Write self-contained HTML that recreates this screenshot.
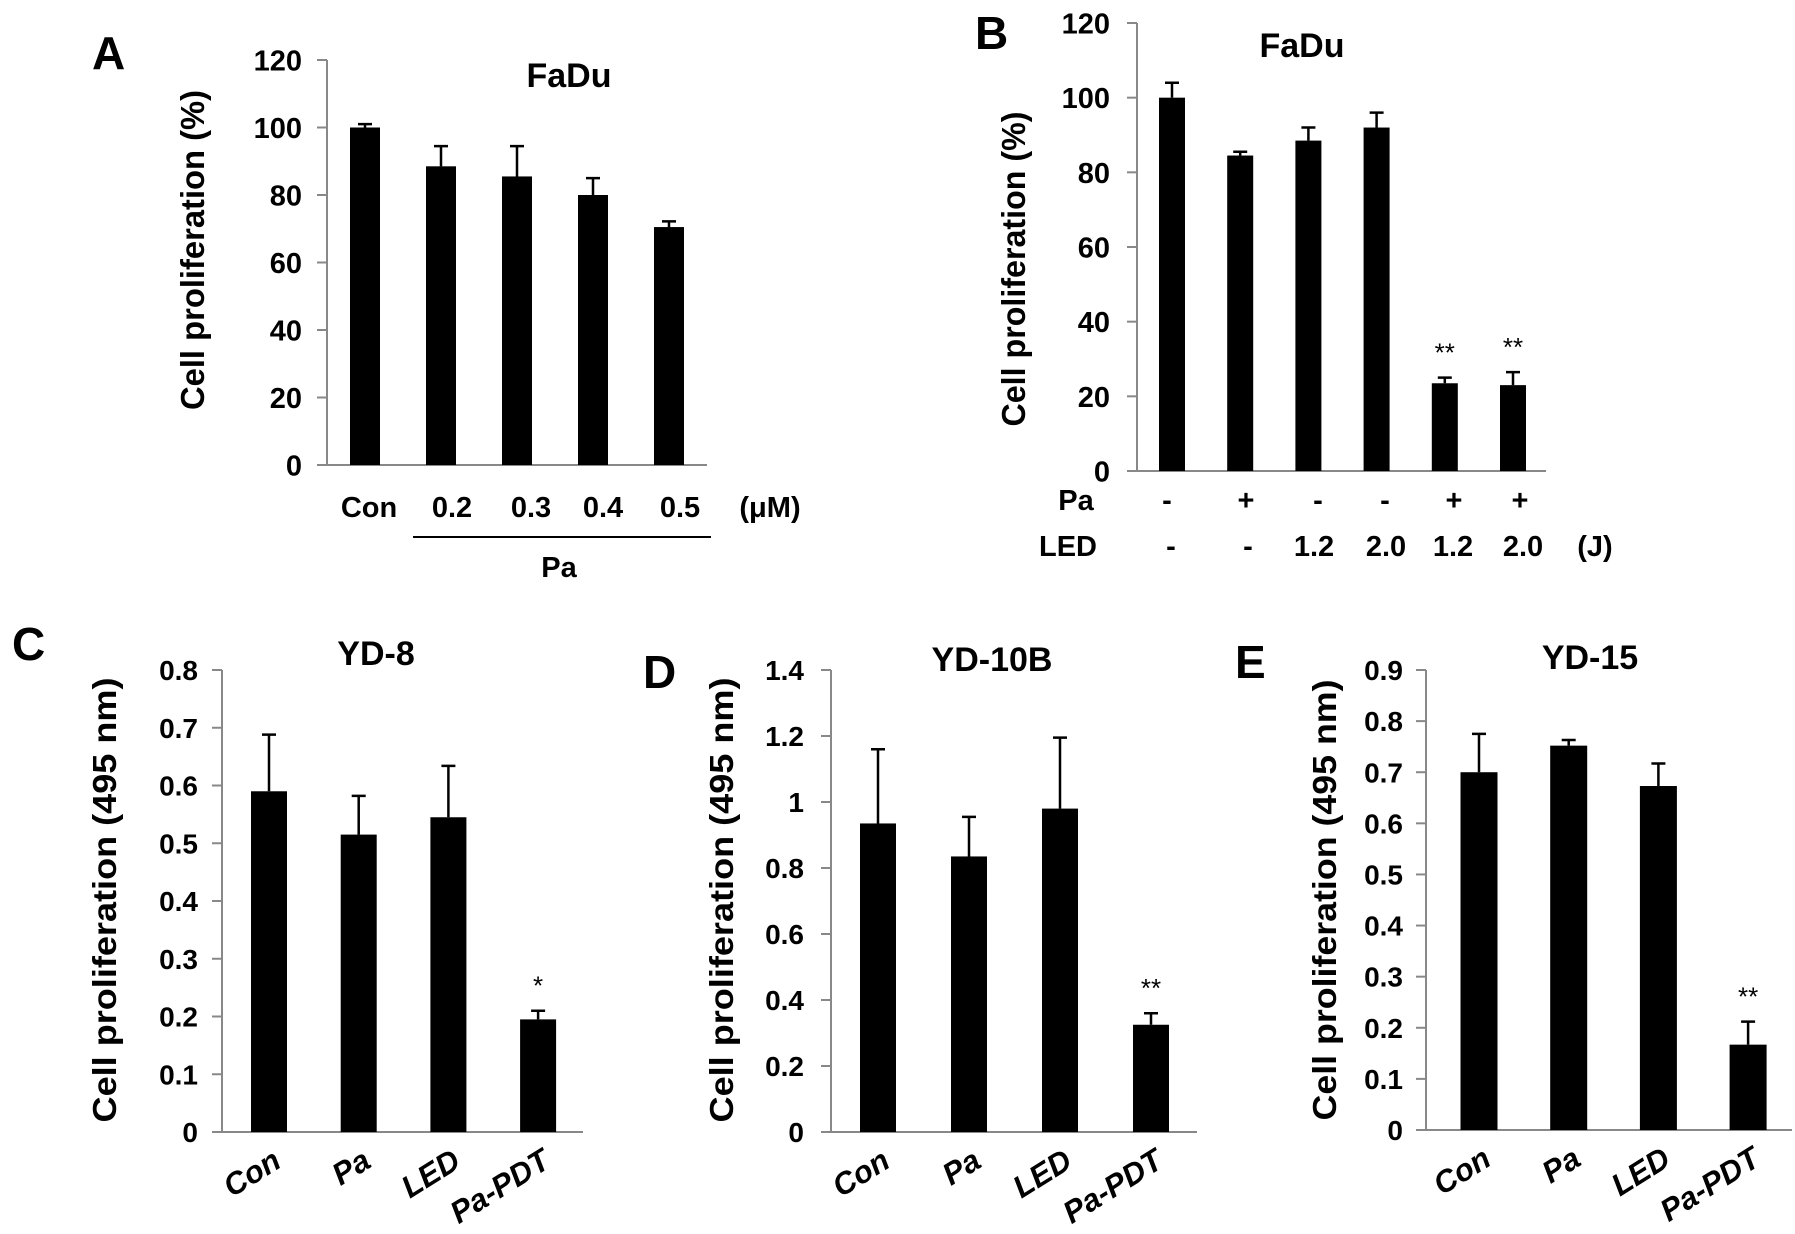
<!DOCTYPE html>
<html><head><meta charset="utf-8">
<style>
html,body{margin:0;padding:0;background:#fff;}
svg{display:block;font-family:"Liberation Sans",Arial,sans-serif;}
</style></head>
<body>
<svg id="fig" width="1795" height="1234" viewBox="0 0 1795 1234" xmlns="http://www.w3.org/2000/svg"></svg>
<script>
// ---- Data ----
const catsA = ["Con","0.2","0.3","0.4","0.5"];
const valsA = [100, 88.5, 85.5, 80, 70.5];
const errA  = [1, 6, 9, 5, 1.7];
const ticksA = [0,20,40,60,80,100,120];

const catsB = ["1","2","3","4","5","6"];
const valsB = [100, 84.5, 88.5, 92, 23.5, 23];
const errB  = [4, 1, 3.5, 4, 1.5, 3.5];
const sigB  = ["", "", "", "", "**", "**"];
const paRowB  = ["-","+","-","-","+","+"];
const ledRowB = ["-","-","1.2","2.0","1.2","2.0"];
const ticksB = [0,20,40,60,80,100,120];

const catsCDE = ["Con","Pa","LED","Pa-PDT"];
const valsC = [0.59, 0.515, 0.545, 0.195];
const errC  = [0.098, 0.067, 0.089, 0.015];
const sigC  = ["", "", "", "*"];
const ticksC = [0,0.1,0.2,0.3,0.4,0.5,0.6,0.7,0.8];
const tickLabC = ["0","0.1","0.2","0.3","0.4","0.5","0.6","0.7","0.8"];

const valsD = [0.935, 0.835, 0.98, 0.325];
const errD  = [0.225, 0.12, 0.215, 0.035];
const sigD  = ["", "", "", "**"];
const ticksD = [0,0.2,0.4,0.6,0.8,1,1.2,1.4];
const tickLabD = ["0","0.2","0.4","0.6","0.8","1","1.2","1.4"];

const valsE = [0.70, 0.752, 0.673, 0.167];
const errE  = [0.075, 0.011, 0.044, 0.045];
const sigE  = ["", "", "", "**"];
const ticksE = [0,0.1,0.2,0.3,0.4,0.5,0.6,0.7,0.8,0.9];
const tickLabE = ["0","0.1","0.2","0.3","0.4","0.5","0.6","0.7","0.8","0.9"];

const NS = "http://www.w3.org/2000/svg";
const svg = document.getElementById("fig");
function mk(tag, attrs, parent){
  const e = document.createElementNS(NS, tag);
  for (const k in attrs) e.setAttribute(k, attrs[k]);
  (parent||svg).appendChild(e);
  return e;
}
function txt(s, attrs, parent){ const t = mk("text", attrs, parent); t.textContent = s; return t; }

function panel(cfg){
  const g = mk("g", {});
  
  
  const y = v => cfg.y0 - (v - cfg.min) / (cfg.max - cfg.min) * (cfg.y0 - cfg.yTop);
  const ax = mk("line", {x1:cfg.ax, y1:cfg.yTop, x2:cfg.ax, y2:cfg.y0, stroke:"#888", "stroke-width":2}, g);
  
  
  const bx = mk("line", {x1:cfg.ax-10, y1:cfg.y0, x2:cfg.xEnd, y2:cfg.y0, stroke:"#888", "stroke-width":2}, g);
  
  
  cfg.ticks.forEach((t,i) => {
    mk("line", {x1:cfg.ax-10, y1:y(t), x2:cfg.ax, y2:y(t), stroke:"#888", "stroke-width":2}, g);
    const lab = txt(cfg.tickLabels ? cfg.tickLabels[i] : String(t), {x:cfg.tickRight, y:y(t)+cfg.tickFs*0.36, "text-anchor":"end", "font-size":cfg.tickFs, "font-weight":"bold", "font-family":"Liberation Sans Narrow, Liberation Sans, sans-serif"}, g);
    
    
  });
  cfg.vals.forEach((v,i) => {
    const cx = cfg.x0 + i * cfg.step;
    const r = mk("rect", {x:cx - cfg.bw/2, y:y(v), width:cfg.bw, height:cfg.y0 - y(v), fill:"#000"}, g);
    
    
    const top = y(v + cfg.err[i]);
    const eb = mk("path", {d:`M${cx} ${y(v)} V${top} M${cx-7} ${top} H${cx+7}`, stroke:"#000", "stroke-width":2.5, fill:"none"}, g);
    
    
    if (cfg.sig && cfg.sig[i]) {
      const s = txt(cfg.sig[i], {x:cx, y:top - 16, "text-anchor":"middle", "font-size":26}, g);
      
      
    }
  });
  const ti = txt(cfg.title, {x:cfg.titleX, y:cfg.titleY, "text-anchor":"middle", "font-size":cfg.titleFs, "font-weight":"bold", "font-family":"Liberation Sans Narrow, Liberation Sans, sans-serif"}, g);
  
  
  const le = txt(cfg.letter, {x:cfg.letX, y:cfg.letY, "font-size":46, "font-weight":"bold"}, g);
  
  
  const yl = txt(cfg.ylabel, {x:0, y:0, "text-anchor":"middle", "font-size":cfg.ylFs, "font-weight":"bold", transform:`translate(${cfg.ylX},${cfg.ylY}) rotate(-90)`, textLength:cfg.ylLen, lengthAdjust:"spacingAndGlyphs"}, g);
  
  
  return {g, y};
}

const A = panel({name:"panel-a", letter:"A", letX:92, letY:69, ax:327, yTop:60, y0:465, xEnd:707, min:0, max:120,
  ticks:ticksA, tickRight:302, tickFs:29, vals:valsA, err:errA, x0:365, step:76, bw:30,
  title:"FaDu", titleX:569, titleY:87, titleFs:34, ylabel:"Cell proliferation (%)", ylX:204, ylY:250, ylFs:33, ylLen:320});
const xA = [369,452,531,603,680];
catsA.forEach((c,i)=>{
  const t = txt(c, {x:xA[i], y:517, "text-anchor":"middle", "font-size":29, "font-weight":"bold", "font-family":"Liberation Sans Narrow, Liberation Sans, sans-serif"}, A.g);
  
  
});
{
  const u = txt("(μM)", {x:770, y:517, "text-anchor":"middle", "font-size":29, "font-weight":"bold"}, A.g);
  
  
  const l = mk("line", {x1:413, y1:537, x2:711, y2:537, stroke:"#000", "stroke-width":2}, A.g);
  
  
  const p = txt("Pa", {x:559, y:577, "text-anchor":"middle", "font-size":29, "font-weight":"bold"}, A.g);
  
  
}

const B = panel({name:"panel-b", letter:"B", letX:975, letY:49, ax:1137, yTop:23, y0:471, xEnd:1546, min:0, max:120,
  ticks:ticksB, tickRight:1110, tickFs:29, vals:valsB, err:errB, sig:sigB, x0:1172, step:68.2, bw:26,
  title:"FaDu", titleX:1302, titleY:57, titleFs:34, ylabel:"Cell proliferation (%)", ylX:1025, ylY:269, ylFs:33, ylLen:315});
{
  const pl = txt("Pa", {x:1076, y:510, "text-anchor":"middle", "font-size":29, "font-weight":"bold"}, B.g);
  
  
  const ll = txt("LED", {x:1068, y:556, "text-anchor":"middle", "font-size":29, "font-weight":"bold"}, B.g);
  
  
  const j = txt("(J)", {x:1595, y:556, "text-anchor":"middle", "font-size":29, "font-weight":"bold"}, B.g);
  
  
}
const paX = [1167,1246,1318,1385,1454,1520];
const ledX = [1171,1248,1314,1386,1453,1523];
paRowB.forEach((s,i)=>{
  const t = txt(s, {x:paX[i], y:510, "text-anchor":"middle", "font-size":29, "font-weight":"bold"}, B.g);
  
  
});
ledRowB.forEach((s,i)=>{
  const t = txt(s, {x:ledX[i], y:556, "text-anchor":"middle", "font-size":29, "font-weight":"bold", "font-family":"Liberation Sans Narrow, Liberation Sans, sans-serif"}, B.g);
  
  
});

function rotLabels(P, x0, step, y0){
  catsCDE.forEach((c,i)=>{
    const cx = x0 + i*step + 14;
    const t = txt(c, {x:0, y:0, "text-anchor":"end", "font-size":31, "font-weight":"bold", "font-style":"italic", transform:`translate(${cx},${y0+34}) rotate(-32)`}, P.g);
    
    
  });
}

const C = panel({name:"panel-c", letter:"C", letX:12, letY:660, ax:222, yTop:670, y0:1132, xEnd:583, min:0, max:0.8,
  ticks:ticksC, tickLabels:tickLabC, tickRight:198, tickFs:28, vals:valsC, err:errC, sig:sigC, x0:269, step:89.7, bw:36,
  title:"YD-8", titleX:376, titleY:665, titleFs:34, ylabel:"Cell proliferation (495 nm)", ylX:116, ylY:900, ylFs:33, ylLen:445});
rotLabels(C, 269, 89.7, 1132);

const D = panel({name:"panel-d", letter:"D", letX:643, letY:688, ax:831, yTop:670, y0:1132, xEnd:1197, min:0, max:1.4,
  ticks:ticksD, tickLabels:tickLabD, tickRight:804, tickFs:28, vals:valsD, err:errD, sig:sigD, x0:878, step:91, bw:36,
  title:"YD-10B", titleX:992, titleY:671, titleFs:34, ylabel:"Cell proliferation (495 nm)", ylX:733, ylY:900, ylFs:33, ylLen:445});
rotLabels(D, 878, 91, 1132);

const E = panel({name:"panel-e", letter:"E", letX:1235, letY:678, ax:1426, yTop:670, y0:1130, xEnd:1792, min:0, max:0.9,
  ticks:ticksE, tickLabels:tickLabE, tickRight:1403, tickFs:28, vals:valsE, err:errE, sig:sigE, x0:1479, step:89.7, bw:37,
  title:"YD-15", titleX:1590, titleY:669, titleFs:34, ylabel:"Cell proliferation (495 nm)", ylX:1336, ylY:900, ylFs:33, ylLen:441});
rotLabels(E, 1479, 89.7, 1130);
</script>
</body></html>
